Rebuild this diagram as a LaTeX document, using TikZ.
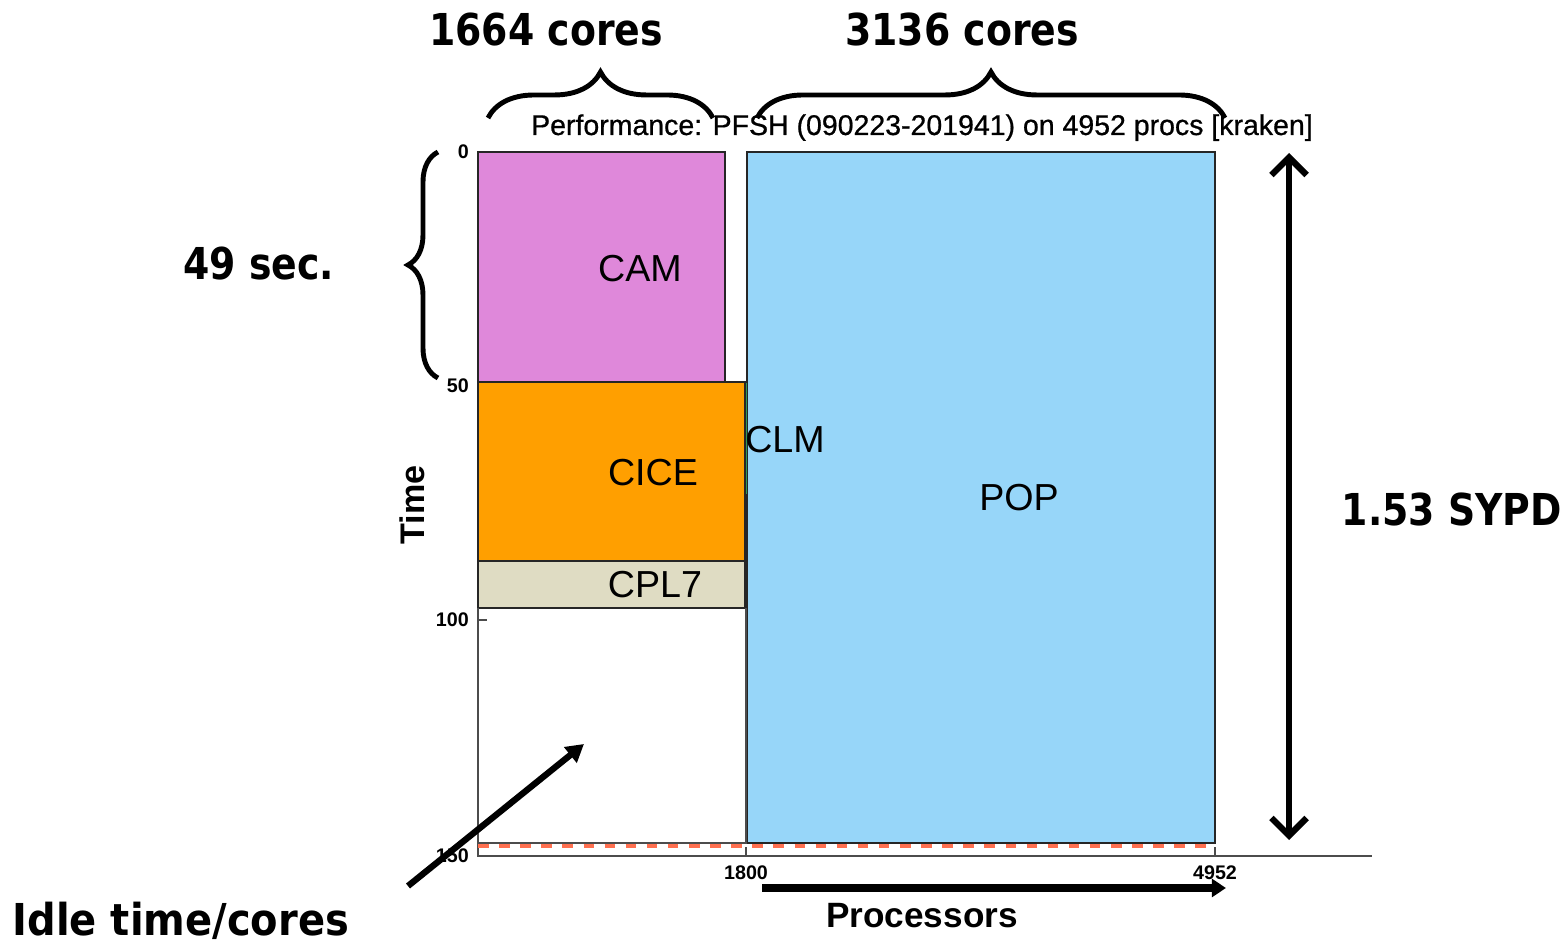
\documentclass[tikz,border=0pt]{standalone}
\usepackage{fontspec}
\setmainfont{Liberation Sans}
\newfontfamily\calloutfont{DejaVu Sans}
\newfontface\titlefont[FakeBold=0.7]{Liberation Sans}
\usetikzlibrary{arrows.meta, decorations.pathreplacing, positioning}
\definecolor{camfill}{HTML}{DF88DA}
\definecolor{cicefill}{HTML}{FF9F00}
\definecolor{cplfill}{HTML}{DFDCC3}
\definecolor{popfill}{HTML}{97D6F9}
\definecolor{clmfill}{HTML}{2E9B57}
\definecolor{lagline}{HTML}{FF7050}
\newcommand{\squeeze}[2][0.86]{\scalebox{#1}[1]{#2}}

\begin{document}
\begin{tikzpicture}[x=0.01cm, y=-0.01cm,
    comp/.style={draw=black!85, line width=0.4pt},
    lab/.style={font=\fontsize{10.7}{12}\selectfont, inner sep=0pt, anchor=base},
    tick/.style={font=\bfseries\fontsize{5.6}{6}\selectfont, inner sep=1pt},
    callout/.style={font=\calloutfont\bfseries\fontsize{12.5}{14}\selectfont, inner sep=0pt, anchor=base},
    curly/.style={decorate, decoration={brace, amplitude=#1}, line width=1.4pt},
    fat/.style={line width=1.8pt},
  ]
  \useasboundingbox (0,0) rectangle (1566,943);

  \draw[comp, fill=popfill] (747,152) rectangle (1215,843);
  \draw[comp, fill=camfill] (478,152) rectangle (725,382);
  \draw[comp, fill=cicefill] (478,382) rectangle (745,561);
  \draw[comp, fill=cplfill] (478,561) rectangle (745,608);
  \draw[comp, fill=clmfill] (745,382) rectangle (747.5,495);
  \draw[black!70, line width=0.5pt] (478,608) -- (478,856) -- (1372,856);
  \draw[black!70, line width=0.5pt] (746,608) -- (746,843) -- (478,843);
  \draw[lagline, dashed, line width=0.9pt] (478,846) -- (1215,846);
  \draw[black!70, line width=0.4pt] (478,620) -- (487,620);
  \draw[black!70, line width=0.4pt] (746,847) -- (746,856);
  \draw[black!70, line width=0.4pt] (1215,847) -- (1215,856);

  \node[tick, anchor=east] (t0) at (473,152) {0};
  \node[tick, anchor=east] (t50) at (473,386) {50};
  \node[tick, anchor=east] (t100) at (473,620) {100};
  \node[tick, anchor=east] (t150) at (473,856) {150};
  \node[tick, anchor=north] (p1800) at (746,862) {1800};
  \node[tick, anchor=north] (p4952) at (1215,862) {4952};

  \node[lab] (cam) at (640,282) {CAM};
  \node[lab] (cice) at (653,486) {CICE};
  \node[lab] (cpl) at (655,597) {CPL7};
  \node[lab] (clm) at (785,453) {CLM};
  \node[lab] (pop) at (1019,511) {POP};

  \node[font=\titlefont\fontsize{8.1}{9}\selectfont, inner sep=0pt, anchor=base] (title) at (922,135)
    {Performance: PFSH (090223-201941) on 4952 procs [kraken]};
  \node[font=\bfseries\fontsize{10}{12}\selectfont, inner sep=0pt, anchor=base] (xlabel) at (922,927) {Processors};
  \node[font=\bfseries\fontsize{9.7}{12}\selectfont, inner sep=0pt, anchor=base, rotate=90] (ylabel) at (424,505) {Time};

  \node[callout] (cpucores) at (546,46) {\squeeze{1664 cores}};
  \node[callout] (ocncores) at (962,46) {\squeeze{3136 cores}};
  \node[callout] (atmsec) at (259,280) {\squeeze{49 sec.}};
  \node[callout] (sypd) at (1452,526) {\squeeze{1.53 SYPD}};
  \node[callout, anchor=base west] (idle) at (12,935) {\squeeze[0.91]{Idle time/cores}};

  \draw[curly=0.46cm] (488,118) -- (713,118);
  \draw[curly=0.46cm] (757,118) -- (1225,118);
  \draw[curly=0.3cm] (438,378) -- (438,152);

  \coordinate (sypdtop) at (1289,153);
  \coordinate (sypdbot) at (1289,840);
  \coordinate (idletail) at (408,886);
  \coordinate (idlehead) at (584,744);
  \coordinate (proctail) at (762,888);
  \coordinate (prochead) at (1226,888);
  \draw[fat, {Straight Barb[length=5pt, width=10pt]}-{Straight Barb[length=5pt, width=10pt]}] (sypdtop) -- (sypdbot);
  \draw[fat, -{Triangle[length=5pt, width=5.5pt]}] (idletail) -- (idlehead);
  \draw[line width=2pt, -{Triangle[length=4pt, width=5pt]}] (proctail) -- (prochead);
\end{tikzpicture}
\end{document}
